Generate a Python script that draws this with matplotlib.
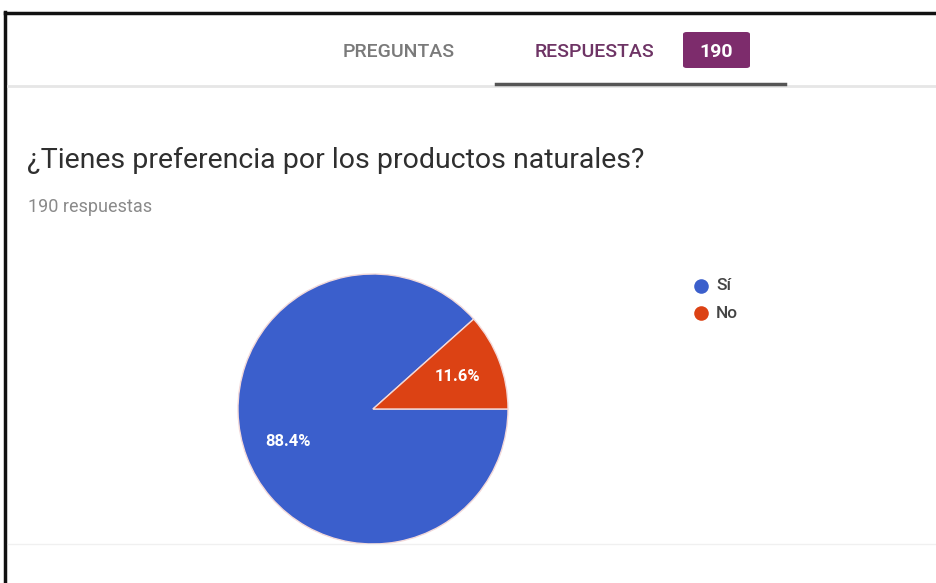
import matplotlib.pyplot as plt
from matplotlib.lines import Line2D
from matplotlib.patches import FancyBboxPatch

plt.rcParams['font.family'] = ['Roboto', 'DejaVu Sans']

question = '¿Tienes preferencia por los productos naturales?'
total = 190
labels = ['Sí', 'No']
shares = [88.4, 11.6]
colors = ['#3b5fcc', '#dc4214']

W, H = 937, 583
fig = plt.figure(figsize=(W / 100, H / 100), dpi=100)
fig.patch.set_facecolor('white')


def fx(x):
    return x / W


def fy(y):
    return 1 - y / H


# outer frame (left and top edges)
fig.add_artist(Line2D([fx(5), fx(5)], [fy(12), fy(583)], color='#111111', lw=2.5))
fig.add_artist(Line2D([fx(5), fx(937)], [fy(13), fy(13)], color='#111111', lw=2.5))

# tab header
fig.text(fx(399), fy(57), 'PREGUNTAS', color='#7a7a7a', fontsize=14,
         ha='center', va='baseline', fontweight='medium')
fig.text(fx(595), fy(57), 'RESPUESTAS', color='#6e3465', fontsize=14,
         ha='center', va='baseline', fontweight='medium')
badge = FancyBboxPatch((fx(683), fy(68)), 67 / W, 36 / H,
                       boxstyle='round,pad=0,rounding_size=0.004',
                       transform=fig.transFigure, facecolor='#7d2c6c',
                       edgecolor='none')
fig.add_artist(badge)
fig.text(fx(716), fy(57), str(total), color='white', fontsize=14,
         ha='center', va='baseline', fontweight='bold')
fig.add_artist(Line2D([fx(8), fx(937)], [fy(86), fy(86)], color='#e6e6e6', lw=2))
fig.add_artist(Line2D([fx(496), fx(785)], [fy(84), fy(84)], color='#555555', lw=2.5))

# question block
fig.text(fx(27), fy(168), question, color='#2f2f2f', fontsize=20.5,
         ha='left', va='baseline')
fig.text(fx(28), fy(212), f'{total} respuestas', color='#8a8a8a', fontsize=13,
         ha='left', va='baseline')

# card bottom edge
fig.add_artist(Line2D([fx(8), fx(937)], [fy(544), fy(544)], color='#f0f0f0', lw=1))

# pie chart
ax = fig.add_axes([fx(238), fy(544), 270 / W, 270 / H])
wedges, texts, autotexts = ax.pie(
    shares, colors=colors, startangle=41.76, counterclock=True,
    autopct='%.1f%%', pctdistance=0.67,
    wedgeprops=dict(edgecolor='#f3d9d9', linewidth=1),
    textprops=dict(color='white', fontsize=12, fontweight='bold'))
ax.set_xlim(-1.0, 1.0)
ax.set_ylim(-1.0, 1.0)
ax.set_aspect('equal')
ax.axis('off')

# legend
for i, (lab, col) in enumerate(zip(labels, colors)):
    y = 286 + i * 27
    fig.add_artist(Line2D([fx(701)], [fy(y)], marker='o', markersize=10.5,
                          markerfacecolor=col, markeredgecolor='none',
                          linestyle='none'))
    fig.text(fx(716), fy(y), lab, color='#444444', fontsize=12.5,
             ha='left', va='center', fontweight='medium')

fig.savefig('out.png', dpi=100)
